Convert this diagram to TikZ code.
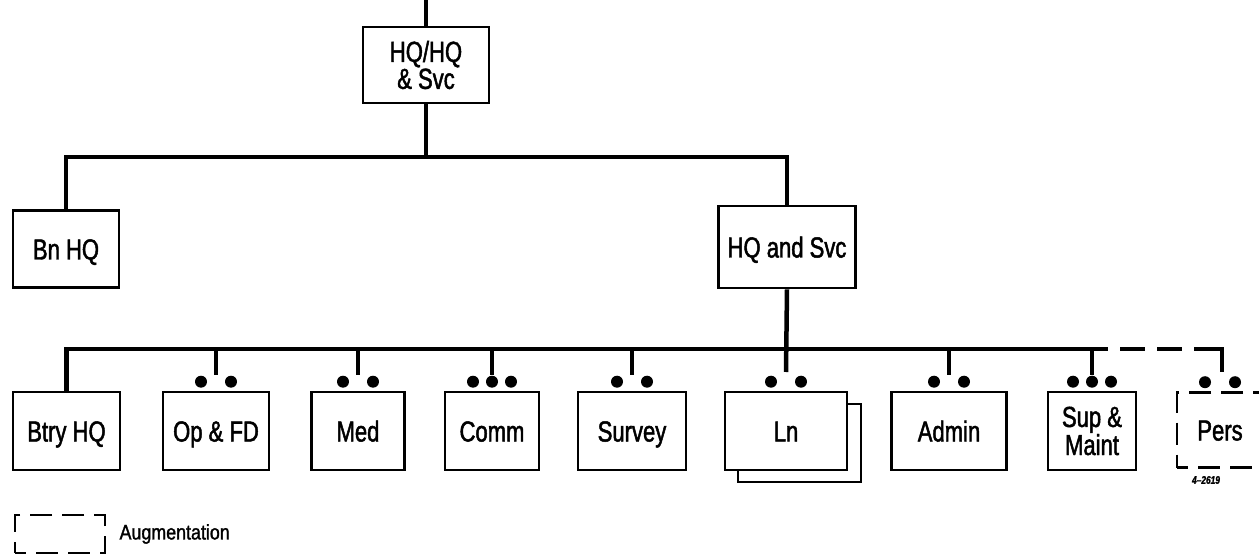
\documentclass[tikz,border=0pt]{standalone}
\usepackage{fontspec}
\setmainfont{Liberation Sans}[FakeStretch=0.76, FakeBold=1.6]
\newfontfamily\legendfont{Liberation Sans}[FakeStretch=0.85, FakeBold=1.4]
\usetikzlibrary{calc}
\begin{document}
\begin{tikzpicture}[x=1pt,y=-1pt,
  unit/.style={draw, line width=2.6pt, fill=white, minimum height=78pt, inner sep=0pt,
    font=\fontsize{29}{27}\selectfont, align=center},
  one/.style={text height=21pt, text depth=0pt},
  aug/.style={unit, dash pattern=on 22pt off 10pt, dash phase=11pt},
  bar/.style={line width=4.5pt, line join=miter},
  augbar/.style={line width=4.5pt, line join=miter,
    dash pattern=on 0pt off 12pt on 25pt off 12pt on 25pt off 12pt on 100pt},
  dot/.style={fill=black}]
\useasboundingbox (0,0) rectangle (1259,556);
\begin{scope}
\clip (0,0) rectangle (1259,556);
% coordinates
\coordinate (topin) at (426,0);
\coordinate (bar1) at (0,157);
\coordinate (bar2) at (0,349);
\coordinate (barend) at (1108,349);
\coordinate (persstem) at (1222,372);
\coordinate (lnstem) at (786,372);
% upper boxes
\node[unit, minimum width=126pt, minimum height=76pt] (top) at (426,65) {HQ/HQ\\\& Svc};
\node[unit, one, minimum width=106pt, minimum height=77pt] (bnhq) at (66,249) {Bn HQ};
\node[unit, one, minimum width=137pt, minimum height=82pt] (hqsvc) at (787,247) {HQ and Svc};
% lower boxes
\node[unit, one, minimum width=107pt] (btry) at (66.5,431) {Btry HQ};
\node[unit, one, minimum width=106pt] (opfd) at (216,431) {Op \& FD};
\node[unit, one, minimum width=93pt] (med) at (358,431) {Med};
\node[unit, one, minimum width=94pt] (comm) at (492,431) {Comm};
\node[unit, one, minimum width=108pt] (survey) at (632,431) {Survey};
\node[unit, minimum width=123pt] (lnback) at (799.5,443) {};
\node[unit, one, minimum width=122pt] (ln) at (786,431) {Ln};
\node[unit, one, minimum width=115pt] (admin) at (949,431) {Admin};
\node[unit, minimum width=88pt] (supm) at (1092,431) {Sup \&\\Maint};
\node[aug, one, minimum width=86pt, minimum height=75pt] (pers) at (1220,430) {Pers};
% connectors
\draw[bar] (topin) -- (top.north);
\draw[bar] (top.south) -- (top.south |- bar1);
\draw[bar] (bnhq.north) |- (hqsvc.north |- bar1) -- (hqsvc.north);
\draw[bar] (btry.north) |- (barend);
\draw[bar] (hqsvc.south) -- (lnstem);
\draw[augbar] (barend) -| (persstem);
\foreach \n in {opfd,med,comm,survey,admin,supm}
  \draw[bar] (\n.north |- bar2) -- ++(0,26);
% dots
\foreach \n in {opfd,med,survey,ln,admin,pers}
  \fill[dot] (\n.north) ++(-15,-9) circle (6pt) ++(30,0) circle (6pt);
\foreach \n in {comm,supm}
  \fill[dot] (\n.north) ++(-19,-9) circle (6pt) ++(19,0) circle (6pt) ++(19,0) circle (6pt);
% mark
\node[font=\fontsize{11}{11}\selectfont\itshape\bfseries] (code) at (1206,480) {4--2619};
% legend
\node[aug, line width=2.8pt, minimum width=90pt, minimum height=38pt] (leg) at (60,534) {};
\node[anchor=west, font=\legendfont\fontsize{21}{21}\selectfont, inner sep=0pt] (legtext)
  at ([xshift=13pt]leg.east) {Augmentation};
\end{scope}
\end{tikzpicture}
\end{document}
